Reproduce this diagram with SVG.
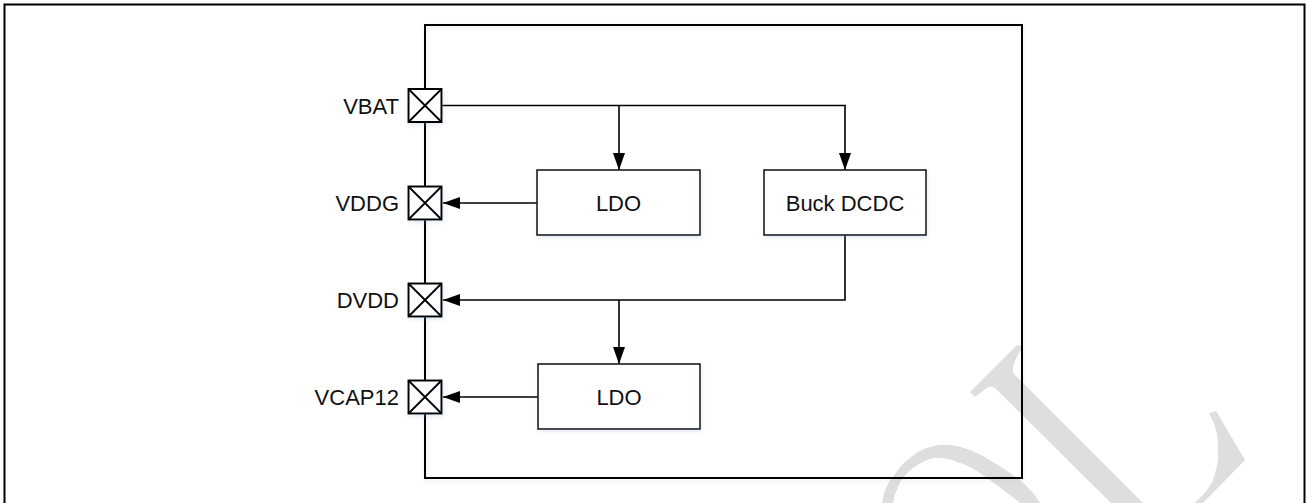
<svg xmlns="http://www.w3.org/2000/svg" width="1307" height="503" viewBox="0 0 1307 503">
<style>
.frame{fill:none;stroke:#000;stroke-width:2}
.chip{fill:none;stroke:#000;stroke-width:2}
.box{fill:#fff;stroke:#1a1a1a;stroke-width:1.6}
.pin{fill:#fff;stroke:#000;stroke-width:2}
.pinx{stroke:#000;stroke-width:1.8}
.wire{fill:none;stroke:#000;stroke-width:1.6}
.lbl{font-family:"Liberation Sans",Arial,sans-serif;font-size:22px;fill:#111}
.wm{fill:#dedede;stroke:none}
</style>
<defs>
<marker id="arr" markerWidth="18" markerHeight="12" refX="17" refY="6" orient="auto" markerUnits="userSpaceOnUse">
<path d="M0,0 L17,6 L0,12 Z" fill="#000"/>
</marker>
<filter id="sh" x="-10%" y="-10%" width="130%" height="140%">
<feGaussianBlur in="SourceAlpha" stdDeviation="2" result="b"/>
<feOffset in="b" dx="1" dy="2" result="o"/>
<feFlood flood-color="#8fa8d0" flood-opacity="0.25"/>
<feComposite in2="o" operator="in" result="s"/>
<feMerge><feMergeNode in="s"/><feMergeNode in="SourceGraphic"/></feMerge>
</filter>
</defs>

<rect class="frame" x="4.5" y="4.5" width="1300" height="520"/>

<g id="watermark">
<path class="wm" d="M970,392 L1017,345 L1023,347 Q1012,362 1013,373 L1145,505 L1113,505 L997,390 Q993,385 988,387 L975,397 Z"/>
<path class="wm" d="M882,503 Q885,485 893,477 Q900,465 910,458 Q920,449 930,447 Q940,444 950,445 Q960,446 970,450 Q982,455 993,462 Q1008,471 1020,480 Q1032,490 1040,503 L1020,503 Q1012,496 1003,490 Q992,481 980,473 Q968,465 957,462 Q945,457 933,458 Q922,461 913,468 Q902,476 898,487 Q894,495 893,503 Z"/>
<path class="wm" d="M1209,413 L1216,411 L1245,460 L1202,504 L1193,504 Q1203,496 1207,490 Q1214,482 1215,473 Q1219,463 1218,453 Q1218,443 1217,433 Q1214,422 1209,413 Z"/>
</g>

<rect id="chip" class="chip" x="425" y="25" width="597" height="453" filter="url(#sh)"/>

<g id="connectors">
<path class="wire" d="M441.5,105.5 H845 V170" marker-end="url(#arr)"/>
<path class="wire" d="M619,105.5 V170" marker-end="url(#arr)"/>
<path class="wire" d="M537,203 H443" marker-end="url(#arr)"/>
<path class="wire" d="M845,235 V300 H443" marker-end="url(#arr)"/>
<path class="wire" d="M619,300 V364" marker-end="url(#arr)"/>
<path class="wire" d="M538,397 H443" marker-end="url(#arr)"/>
</g>

<g id="ldo1">
<rect class="box" x="537" y="170" width="163" height="65" filter="url(#sh)"/>
<text class="lbl" x="618.5" y="210.5" text-anchor="middle">LDO</text>
</g>
<g id="buck">
<rect class="box" x="764" y="170" width="162" height="65" filter="url(#sh)"/>
<text class="lbl" x="845" y="210.5" text-anchor="middle">Buck DCDC</text>
</g>
<g id="ldo2">
<rect class="box" x="538" y="364" width="162" height="65" filter="url(#sh)"/>
<text class="lbl" x="619" y="405" text-anchor="middle">LDO</text>
</g>

<g id="pin-vbat">
<rect class="pin" x="408.5" y="89" width="33" height="33" filter="url(#sh)"/>
<path class="pinx" d="M408.5,89 L441.5,122 M441.5,89 L408.5,122"/>
<text class="lbl" x="399" y="113.5" text-anchor="end">VBAT</text>
</g>
<g id="pin-vddg">
<rect class="pin" x="408.5" y="186.5" width="33" height="33" filter="url(#sh)"/>
<path class="pinx" d="M408.5,186.5 L441.5,219.5 M441.5,186.5 L408.5,219.5"/>
<text class="lbl" x="399" y="211" text-anchor="end">VDDG</text>
</g>
<g id="pin-dvdd">
<rect class="pin" x="408.5" y="283.5" width="33" height="33" filter="url(#sh)"/>
<path class="pinx" d="M408.5,283.5 L441.5,316.5 M441.5,283.5 L408.5,316.5"/>
<text class="lbl" x="399" y="308" text-anchor="end">DVDD</text>
</g>
<g id="pin-vcap12">
<rect class="pin" x="408.5" y="380.5" width="33" height="33" filter="url(#sh)"/>
<path class="pinx" d="M408.5,380.5 L441.5,413.5 M441.5,380.5 L408.5,413.5"/>
<text class="lbl" x="399" y="405" text-anchor="end">VCAP12</text>
</g>
</svg>
